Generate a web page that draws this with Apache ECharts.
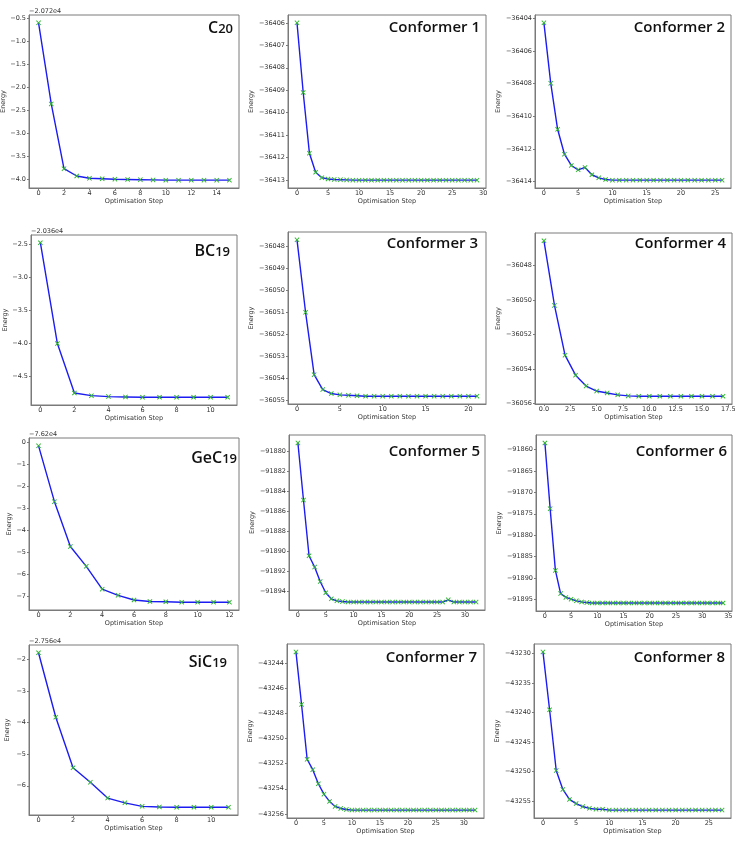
<!DOCTYPE html>
<html><head><meta charset="utf-8">
<script src="https://cdn.jsdelivr.net/npm/echarts@6/dist/echarts.min.js"></script>
<style>html,body{margin:0;padding:0;background:#fff}#c{width:742px;height:843px}</style>
</head><body><div id="c"></div>
<script>
// ---------- DATA (energy per optimisation step, step = array index) ----------
// C20, values relative to offset -2.072e4
const c20Energy = [-0.594, -2.36, -3.77, -3.93, -3.98, -3.99, -4.00, -4.005, -4.01, -4.015, -4.02, -4.02, -4.02, -4.02, -4.02, -4.02];
const conf1Energy = [-36406.0, -36409.1, -36411.8, -36412.65, -36412.89, -36412.95, -36412.97, -36412.98, -36412.99,
  -36413.0, -36413.0, -36413.0, -36413.0, -36413.0, -36413.0, -36413.0, -36413.0, -36413.0, -36413.0, -36413.0,
  -36413.0, -36413.0, -36413.0, -36413.0, -36413.0, -36413.0, -36413.0, -36413.0, -36413.0, -36413.0];
const conf2Energy = [-36404.27, -36407.98, -36410.8, -36412.33, -36413.02, -36413.29, -36413.14, -36413.59, -36413.78, -36413.88,
  -36413.92, -36413.92, -36413.92, -36413.92, -36413.92, -36413.92, -36413.92, -36413.92, -36413.92, -36413.92,
  -36413.92, -36413.92, -36413.92, -36413.92, -36413.92, -36413.92, -36413.92];
// BC19, relative to offset -2.036e4
const bc19Energy = [-2.48, -4.01, -4.76, -4.80, -4.815, -4.82, -4.825, -4.825, -4.825, -4.825, -4.825, -4.825];
const conf3Energy = [-36047.7, -36051.0, -36053.84, -36054.52, -36054.70, -36054.76, -36054.78, -36054.80,
  -36054.82, -36054.82, -36054.82, -36054.82, -36054.82, -36054.82, -36054.82, -36054.82, -36054.82, -36054.82,
  -36054.82, -36054.82, -36054.82, -36054.82];
const conf4Energy = [-36046.57, -36050.32, -36053.2, -36054.36, -36054.99, -36055.28, -36055.39, -36055.5, -36055.56,
  -36055.58, -36055.58, -36055.58, -36055.58, -36055.58, -36055.58, -36055.58, -36055.58, -36055.58];
// GeC19, relative to offset -7.62e4
const gec19Energy = [-0.14, -2.68, -4.72, -5.62, -6.66, -6.94, -7.15, -7.22, -7.23, -7.25, -7.25, -7.25, -7.25];
const conf5Energy = [-91879.19, -91884.9, -91890.47, -91891.6, -91893.05, -91894.17, -91894.78, -91894.98, -91895.05,
  -91895.1, -91895.1, -91895.1, -91895.1, -91895.1, -91895.1, -91895.1, -91895.1, -91895.1, -91895.1,
  -91895.1, -91895.1, -91895.1, -91895.1, -91895.1, -91895.1, -91895.1, -91895.1,
  -91894.88, -91895.1, -91895.1, -91895.1, -91895.1, -91895.1];
const conf6Energy = [-91858.5, -91873.8, -91888.2, -91893.6, -91894.5, -91894.9, -91895.3, -91895.55, -91895.7,
  -91895.8, -91895.8, -91895.8, -91895.8, -91895.8, -91895.8, -91895.8, -91895.8, -91895.8, -91895.8,
  -91895.8, -91895.8, -91895.8, -91895.8, -91895.8, -91895.8, -91895.8, -91895.8, -91895.8, -91895.8,
  -91895.8, -91895.8, -91895.8, -91895.8, -91895.8, -91895.8];
// SiC19, relative to offset -2.756e4
const sic19Energy = [-1.79, -3.83, -5.43, -5.89, -6.39, -6.54, -6.65, -6.67, -6.68, -6.68, -6.68, -6.68];
const conf7Energy = [-43243.09, -43247.28, -43251.65, -43252.48, -43253.6, -43254.43, -43255.01, -43255.41, -43255.57, -43255.65,
  -43255.7, -43255.7, -43255.7, -43255.7, -43255.7, -43255.7, -43255.7, -43255.7, -43255.7, -43255.7,
  -43255.7, -43255.7, -43255.7, -43255.7, -43255.7, -43255.7, -43255.7, -43255.7, -43255.7, -43255.7,
  -43255.7, -43255.7, -43255.7];
const conf8Energy = [-43229.7, -43239.5, -43249.8, -43253.0, -43254.7, -43255.4, -43255.9, -43256.2, -43256.35, -43256.35,
  -43256.5, -43256.5, -43256.5, -43256.5, -43256.5, -43256.5, -43256.5, -43256.5, -43256.5, -43256.5,
  -43256.5, -43256.5, -43256.5, -43256.5, -43256.5, -43256.5, -43256.5, -43256.5];

// ---------- TICKS ----------
const c20YTicks = [-0.5, -1.0, -1.5, -2.0, -2.5, -3.0, -3.5, -4.0];
const c20XTicks = [0, 2, 4, 6, 8, 10, 12, 14];
const conf1YTicks = [-36406, -36407, -36408, -36409, -36410, -36411, -36412, -36413];
const conf1XTicks = [0, 5, 10, 15, 20, 25, 30];
const conf2YTicks = [-36404, -36406, -36408, -36410, -36412, -36414];
const conf2XTicks = [0, 5, 10, 15, 20, 25];
const bc19YTicks = [-2.5, -3.0, -3.5, -4.0, -4.5];
const bc19XTicks = [0, 2, 4, 6, 8, 10];
const conf3YTicks = [-36048, -36049, -36050, -36051, -36052, -36053, -36054, -36055];
const conf3XTicks = [0, 5, 10, 15, 20];
const conf4YTicks = [-36048, -36050, -36052, -36054, -36056];
const conf4XTicks = [0, 2.5, 5, 7.5, 10, 12.5, 15, 17.5];
const gec19YTicks = [0, -1, -2, -3, -4, -5, -6, -7];
const gec19XTicks = [0, 2, 4, 6, 8, 10, 12];
const conf5YTicks = [-91880, -91882, -91884, -91886, -91888, -91890, -91892, -91894];
const conf5XTicks = [0, 5, 10, 15, 20, 25, 30];
const conf6YTicks = [-91860, -91865, -91870, -91875, -91880, -91885, -91890, -91895];
const conf6XTicks = [0, 5, 10, 15, 20, 25, 30, 35];
const sic19YTicks = [-2, -3, -4, -5, -6];
const sic19XTicks = [0, 2, 4, 6, 8, 10];
const conf7YTicks = [-43244, -43246, -43248, -43250, -43252, -43254, -43256];
const conf7XTicks = [0, 5, 10, 15, 20, 25, 30];
const conf8YTicks = [-43230, -43235, -43240, -43245, -43250, -43255];
const conf8XTicks = [0, 5, 10, 15, 20, 25];

const titles = ['{a|C}{b|20}', 'Conformer 1', 'Conformer 2', '{a|BC}{b|19}', 'Conformer 3', 'Conformer 4',
  '{a|GeC}{b|19}', 'Conformer 5', 'Conformer 6', '{a|SiC}{b|19}', 'Conformer 7', 'Conformer 8'];
const offsets = ['\u22122.072e4', '', '', '\u22122.036e4', '', '', '\u22127.62e4', '', '', '\u22122.756e4', '', ''];

const panels = [
  {e: c20Energy, yt: c20YTicks, yd: 1, xt: c20XTicks, xd: 0},
  {e: conf1Energy, yt: conf1YTicks, yd: 0, xt: conf1XTicks, xd: 0},
  {e: conf2Energy, yt: conf2YTicks, yd: 0, xt: conf2XTicks, xd: 0},
  {e: bc19Energy, yt: bc19YTicks, yd: 1, xt: bc19XTicks, xd: 0},
  {e: conf3Energy, yt: conf3YTicks, yd: 0, xt: conf3XTicks, xd: 0},
  {e: conf4Energy, yt: conf4YTicks, yd: 0, xt: conf4XTicks, xd: 1},
  {e: gec19Energy, yt: gec19YTicks, yd: 0, xt: gec19XTicks, xd: 0},
  {e: conf5Energy, yt: conf5YTicks, yd: 0, xt: conf5XTicks, xd: 0},
  {e: conf6Energy, yt: conf6YTicks, yd: 0, xt: conf6XTicks, xd: 0},
  {e: sic19Energy, yt: sic19YTicks, yd: 0, xt: sic19XTicks, xd: 0},
  {e: conf7Energy, yt: conf7YTicks, yd: 0, xt: conf7XTicks, xd: 0},
  {e: conf8Energy, yt: conf8YTicks, yd: 0, xt: conf8XTicks, xd: 0}
];

// ---------- LAYOUT (frame [left, top, width, height], title right edge & cap top, y-name gap) ----------
const layout = [
  {f: [29, 15, 210, 173], tr: 233, tt: 23, ng: 20},
  {f: [288, 15, 198, 173], tr: 480, tt: 23, ng: 27},
  {f: [535, 15, 196, 173], tr: 725, tt: 23, ng: 28},
  {f: [31, 235, 206, 170], tr: 230, tt: 246, ng: 20},
  {f: [288, 232, 198, 172], tr: 478, tt: 239, ng: 27},
  {f: [535, 233, 197, 171], tr: 726, tt: 239, ng: 28},
  {f: [29, 438, 210, 172], tr: 237, tt: 453, ng: 15},
  {f: [289, 435, 196, 175], tr: 480, tt: 447, ng: 28},
  {f: [536, 435, 196, 176], tr: 727, tt: 447, ng: 29},
  {f: [29, 645, 209, 170], tr: 227, tt: 657, ng: 18},
  {f: [287, 644, 197, 174], tr: 477, tt: 653, ng: 29},
  {f: [534, 644, 197, 174], tr: 725, tt: 653, ng: 27}
];

const W = 742;
const FRAME = '#7a7a7a';
const TXT = '#333';
const FONT = 'DejaVu Sans';
const TFONT = 'Open Sans';
const X_PATH = 'path://M0,1.3L1.3,0L5,3.7L8.7,0L10,1.3L6.3,5L10,8.7L8.7,10L5,6.3L1.3,10L0,8.7L3.7,5Z';

function fmt(v, d) {
  let s = Math.abs(v).toFixed(d);
  if (v < 0 && parseFloat(s) !== 0) s = '\u2212' + s;
  return s;
}

const grid = [], xAxis = [], yAxis = [], series = [], title = [];
panels.forEach((p, i) => {
  const L = layout[i];
  grid.push({left: L.f[0], top: L.f[1], width: L.f[2], height: L.f[3], show: true,
    borderColor: FRAME, borderWidth: 1, backgroundColor: 'transparent', containLabel: false, outerBoundsMode: 'none'});
  const n = p.e.length - 1;
  const ymin = Math.min(...p.e), ymax = Math.max(...p.e), pad = (ymax - ymin) * 0.05;
  xAxis.push({type: 'value', gridIndex: i, min: -0.05 * n, max: n * 1.05,
    axisLine: {show: true, onZero: false, lineStyle: {color: FRAME, width: 1}},
    splitLine: {show: false},
    axisTick: {show: true, length: 2, customValues: p.xt, lineStyle: {color: FRAME}},
    axisLabel: {show: true, customValues: p.xt, formatter: v => fmt(v, p.xd), fontSize: 6.5, fontFamily: FONT, color: TXT, margin: 2},
    name: 'Optimisation Step', nameLocation: 'middle', nameGap: 10,
    nameTextStyle: {fontSize: 6.5, fontFamily: FONT, color: TXT}});
  yAxis.push({type: 'value', gridIndex: i, min: ymin - pad, max: ymax + pad, scale: true,
    axisLine: {show: true, onZero: false, lineStyle: {color: FRAME, width: 1}},
    splitLine: {show: false},
    axisTick: {show: true, length: 2, customValues: p.yt, lineStyle: {color: FRAME}},
    axisLabel: {show: true, customValues: p.yt, formatter: v => fmt(v, p.yd), fontSize: 6.5, fontFamily: FONT, color: TXT, margin: 3},
    name: 'Energy', nameLocation: 'middle', nameGap: L.ng, nameRotate: 90,
    nameTextStyle: {fontSize: 6.5, fontFamily: FONT, color: TXT}});
  series.push({type: 'line', xAxisIndex: i, yAxisIndex: i,
    data: p.e.map((y, k) => [k, y]),
    symbol: X_PATH, symbolSize: 5, showSymbol: true, showAllSymbol: true,
    itemStyle: {color: '#2fb52f'}, lineStyle: {color: '#1c1cf2', width: 1.4},
    animation: false, silent: true});
  const isChem = titles[i].indexOf('{a|') === 0;
  if (isChem) {
    title.push({text: titles[i], right: W - L.tr, top: L.tt - 3, padding: 0,
      textStyle: {rich: {
        a: {fontSize: 16, lineHeight: 16, fontFamily: TFONT, fontWeight: 600, color: '#111', verticalAlign: 'bottom'},
        b: {fontSize: 13, lineHeight: 13, fontFamily: TFONT, fontWeight: 600, color: '#111', verticalAlign: 'bottom'}
      }}});
  } else {
    title.push({text: titles[i], right: W - L.tr, top: L.tt - 3, padding: 0,
      textStyle: {fontSize: 15, lineHeight: 15, fontFamily: TFONT, fontWeight: 600, color: '#111'}});
  }
  if (offsets[i]) {
    title.push({text: offsets[i], left: L.f[0], top: L.f[1] - 7, padding: 0,
      textStyle: {fontSize: 6.5, lineHeight: 7, fontFamily: FONT, fontWeight: 'normal', color: TXT}});
  }
});

const chart = echarts.init(document.getElementById('c'), null, {renderer: 'canvas'});
chart.setOption({animation: false, backgroundColor: '#fff', title, grid, xAxis, yAxis, series});
</script>
</body></html>
